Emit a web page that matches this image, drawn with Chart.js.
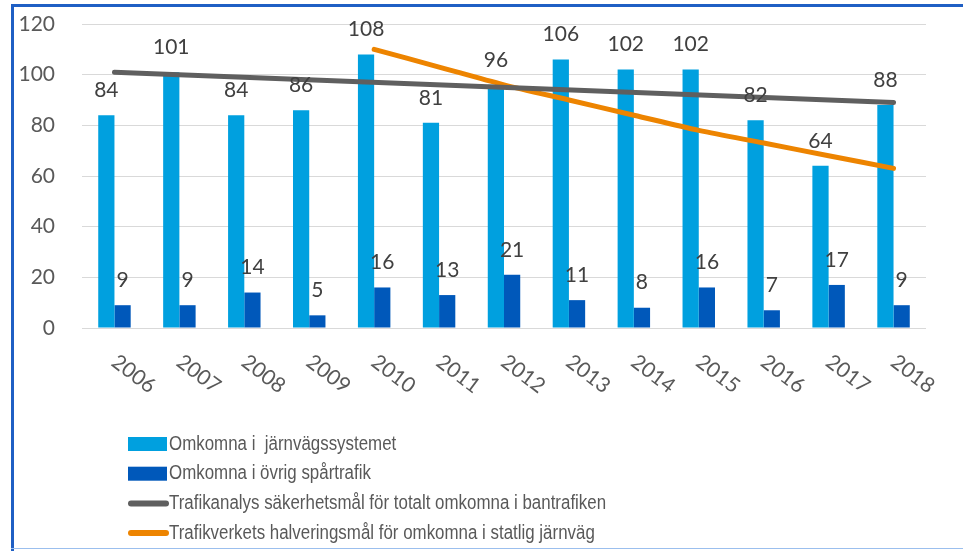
<!DOCTYPE html>
<html>
<head>
<meta charset="utf-8">
<script src="https://cdn.jsdelivr.net/npm/chart.js@4.4.1/dist/chart.umd.min.js"></script>
<style>
  body { margin: 0; background: #fff; }
  canvas { display: block; }
</style>
</head>
<body>
<canvas id="chart" width="963" height="551"></canvas>
<script>
// Omkomna per år
const years = ["2006", "2007", "2008", "2009", "2010", "2011", "2012", "2013", "2014", "2015", "2016", "2017", "2018"];
const omkomnaJarnvag = [84, 101, 84, 86, 108, 81, 96, 106, 102, 102, 82, 64, 88];
const omkomnaOvrig = [9, 9, 14, 5, 16, 13, 21, 11, 8, 16, 7, 17, 9];
// target lines (gray one is straight, only end points)
const trafikanalysMal = [101, null, null, null, null, null, null, null, null, null, null, null, 89];
const trafikverketMal = [null, null, null, null, 110, 103, 96, 90, 84, 78, 73, 68, 63];
const yTicks = [0, 20, 40, 60, 80, 100, 120];

const numFont = "Lato, 'Open Sans', sans-serif";
const legendFont = "'Liberation Sans', sans-serif";

// frame round the picture
const framePlugin = {
  id: "frame",
  beforeDraw(chart) {
    const ctx = chart.ctx;
    ctx.save();
    ctx.fillStyle = "#fff";
    ctx.fillRect(0, 0, chart.width, chart.height);
    ctx.fillStyle = "#1f5fc4";
    ctx.fillRect(11, 4, chart.width - 11, 3);
    ctx.fillRect(11, 4, 3, chart.height - 4);
    ctx.fillStyle = "#9bbfee";
    ctx.fillRect(11, 548, chart.width - 11, 1);
    ctx.restore();
  }
};

// numbers above the bars
const valueLabels = {
  id: "valueLabels",
  afterDatasetsDraw(chart) {
    const ctx = chart.ctx;
    ctx.save();
    ctx.font = "21px " + numFont;
    ctx.fillStyle = "#404040";
    ctx.textAlign = "center";
    ctx.textBaseline = "middle";
    chart.data.datasets.forEach((ds, di) => {
      if (ds.type !== "bar") return;
      chart.getDatasetMeta(di).data.forEach((bar, i) => {
        ctx.fillText(ds.data[i], bar.x, bar.y - 25);
      });
    });
    ctx.restore();
  }
};

// year labels, turned clockwise
const yearLabels = {
  id: "yearLabels",
  afterDraw(chart) {
    const ctx = chart.ctx;
    const xs = chart.scales.x;
    ctx.save();
    ctx.font = "21px " + numFont;
    ctx.fillStyle = "#595959";
    ctx.textAlign = "left";
    ctx.textBaseline = "top";
    years.forEach((y, i) => {
      const x = xs.getPixelForTick(i);
      ctx.save();
      ctx.translate(x + 6, 351);
      ctx.rotate(37 * Math.PI / 180);
      ctx.fillText(y, 0, 0);
      ctx.restore();
    });
    ctx.restore();
  }
};

// legend as a column under the chart
const columnLegend = {
  id: "columnLegend",
  afterDraw(chart) {
    const ctx = chart.ctx;
    ctx.save();
    ctx.font = "20px " + legendFont;
    ctx.textBaseline = "middle";
    chart.data.datasets.forEach((ds, i) => {
      const y = 444 + i * 29.7;
      if (ds.type === "bar") {
        ctx.fillStyle = ds.backgroundColor;
        ctx.fillRect(128, y - 7, 39, 14);
      } else {
        ctx.strokeStyle = ds.borderColor;
        ctx.lineWidth = 6;
        ctx.lineCap = "round";
        ctx.beginPath();
        ctx.moveTo(131, y);
        ctx.lineTo(166, y);
        ctx.stroke();
      }
      // narrow text like the original
      ctx.save();
      ctx.translate(169, y);
      ctx.scale(0.845, 1);
      ctx.fillStyle = "#595959";
      ctx.fillText(ds.label, 0, 0);
      ctx.restore();
    });
    ctx.restore();
  }
};

const ctx = document.getElementById("chart").getContext("2d");
new Chart(ctx, {
  data: {
    labels: years,
    datasets: [
      {
        type: "bar",
        label: "Omkomna i  järnvägssystemet",
        data: omkomnaJarnvag,
        backgroundColor: "#00a0df",
        order: 2
      },
      {
        type: "bar",
        label: "Omkomna i övrig spårtrafik",
        data: omkomnaOvrig,
        backgroundColor: "#0058ba",
        order: 2
      },
      {
        type: "line",
        label: "Trafikanalys säkerhetsmål för totalt omkomna i bantrafiken",
        data: trafikanalysMal,
        borderColor: "#5f5f5f",
        borderWidth: 5,
        borderCapStyle: "round",
        pointRadius: 0,
        spanGaps: true,
        order: 1
      },
      {
        type: "line",
        label: "Trafikverkets halveringsmål för omkomna i statlig järnväg",
        data: trafikverketMal,
        borderColor: "#ed8400",
        borderWidth: 5,
        borderCapStyle: "round",
        pointRadius: 0,
        tension: 0.3,
        order: 1
      }
    ]
  },
  options: {
    responsive: false,
    animation: false,
    layout: { padding: { left: 0, top: 24, right: 37, bottom: 0 } },
    datasets: {
      bar: { barPercentage: 1, categoryPercentage: 0.5 }
    },
    plugins: {
      legend: { display: false },
      tooltip: { enabled: false }
    },
    scales: {
      x: {
        grid: { display: false },
        border: { display: false },
        ticks: { display: false },
        afterFit: s => { s.height = 223; }
      },
      y: {
        min: 0,
        max: 120,
        afterBuildTicks: s => { s.ticks = yTicks.map(v => ({ value: v })); },
        ticks: {
          padding: 27,
          color: "#595959",
          font: { family: numFont, size: 21 }
        },
        grid: { color: "#d9d9d9", drawTicks: false },
        border: { display: false },
        afterFit: s => {
          s.width = 82;
          s.paddingTop = 0;
          s.paddingBottom = 0;
        }
      }
    }
  },
  plugins: [framePlugin, valueLabels, yearLabels, columnLegend]
});
</script>
</body>
</html>
